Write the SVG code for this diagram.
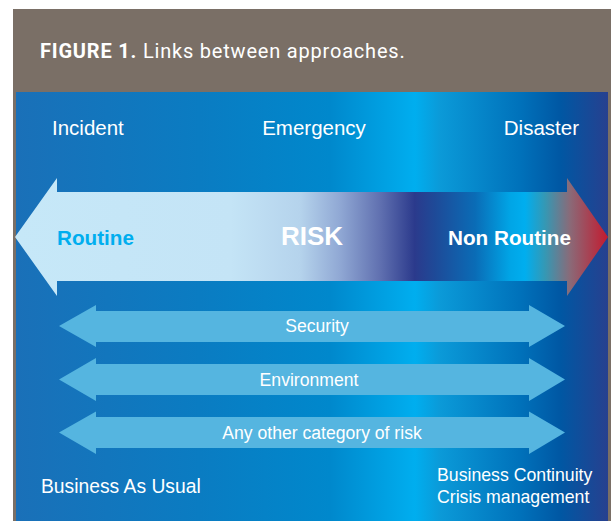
<svg xmlns="http://www.w3.org/2000/svg" width="611" height="521" viewBox="0 0 611 521">
  <defs>
    <linearGradient id="bg" gradientUnits="userSpaceOnUse" x1="16" y1="0" x2="608" y2="0">
      <stop offset="0" stop-color="#1a70b8"/>
      <stop offset="0.31" stop-color="#0a7cc2"/>
      <stop offset="0.53" stop-color="#0088cc"/>
      <stop offset="0.674" stop-color="#00aeef"/>
      <stop offset="0.716" stop-color="#0b9ad8"/>
      <stop offset="0.85" stop-color="#0072bb"/>
      <stop offset="0.92" stop-color="#0057a3"/>
      <stop offset="1" stop-color="#27408f"/>
    </linearGradient>
    <linearGradient id="risk" gradientUnits="userSpaceOnUse" x1="15" y1="0" x2="608" y2="0">
      <stop offset="0" stop-color="#c6e8f8"/>
      <stop offset="0.363" stop-color="#c4e4f6"/>
      <stop offset="0.481" stop-color="#b5d3ec"/>
      <stop offset="0.548" stop-color="#90a8d4"/>
      <stop offset="0.616" stop-color="#6070b0"/>
      <stop offset="0.658" stop-color="#3a4996"/>
      <stop offset="0.674" stop-color="#2b3a8c"/>
      <stop offset="0.708" stop-color="#1e4a98"/>
      <stop offset="0.776" stop-color="#0a6cb6"/>
      <stop offset="0.835" stop-color="#00a5e6"/>
      <stop offset="0.860" stop-color="#00aeef"/>
      <stop offset="0.894" stop-color="#3598b4"/>
      <stop offset="0.936" stop-color="#8a6a78"/>
      <stop offset="1" stop-color="#c41a2f"/>
    </linearGradient>
  </defs>
  <style>
    .lbl { font-family: "Liberation Sans", Arial, sans-serif; fill: #ffffff; }
    .top { font-size: 20.5px; }
    .cat { font-size: 17.6px; text-anchor: middle; }
    .bot { font-size: 17.7px; }
    .band { fill: #55b5e0; }
  </style>

  <rect x="0" y="0" width="611" height="521" fill="#ffffff"/>
  <g id="frame">
    <rect x="13" y="9" width="598" height="512" fill="#7a6f66"/>
    <rect x="16" y="92" width="592" height="429" fill="url(#bg)"/>
  </g>

  <g id="title">
    <text x="40" y="58" style="font-family: Roboto, 'DejaVu Sans', sans-serif; font-size: 20px; letter-spacing: 0.8px; fill: #ffffff;"><tspan font-weight="bold">FIGURE 1.</tspan> Links between approaches.</text>
  </g>

  <g id="scale-labels">
    <text class="lbl top" x="52" y="135">Incident</text>
    <text class="lbl top" x="314" y="135" text-anchor="middle">Emergency</text>
    <text class="lbl top" x="579" y="135" text-anchor="end">Disaster</text>
  </g>

  <g id="risk-arrow">
    <polygon points="15,237 57,178 57,192 567,192 567,178 608,237 567,296 567,281 57,281 57,296" fill="url(#risk)"/>
    <text x="57" y="245" style="font-family: 'Liberation Sans', Arial, sans-serif; font-size: 20.7px; font-weight: bold; fill: #00aeef;">Routine</text>
    <text class="lbl" x="312" y="245" text-anchor="middle" style="font-size: 26px; font-weight: bold;">RISK</text>
    <text class="lbl" x="571" y="245" text-anchor="end" style="font-size: 20.7px; font-weight: bold;">Non Routine</text>
  </g>

  <g id="connectors"></g>

  <g id="security">
    <polygon class="band" points="59,326 96,305 96,311 529,311 529,305 565,326 529,347 529,342 96,342 96,347"/>
    <text class="lbl cat" x="317" y="332">Security</text>
  </g>
  <g id="environment">
    <polygon class="band" points="59,379.5 96,358 96,364 529,364 529,358 565,379.5 529,401 529,395 96,395 96,401"/>
    <text class="lbl cat" x="309" y="385.5">Environment</text>
  </g>
  <g id="other-risk">
    <polygon class="band" points="59,432.5 96,411.5 96,417 529,417 529,411.5 565,432.5 529,454 529,448 96,448 96,454"/>
    <text class="lbl cat" x="322" y="438.5">Any other category of risk</text>
  </g>

  <g id="bau">
    <text class="lbl" x="41" y="493" style="font-size: 19.3px;">Business As Usual</text>
  </g>
  <g id="bc">
    <text class="lbl bot" x="437" y="481">Business Continuity</text>
    <text class="lbl bot" x="437" y="503">Crisis management</text>
  </g>
</svg>
